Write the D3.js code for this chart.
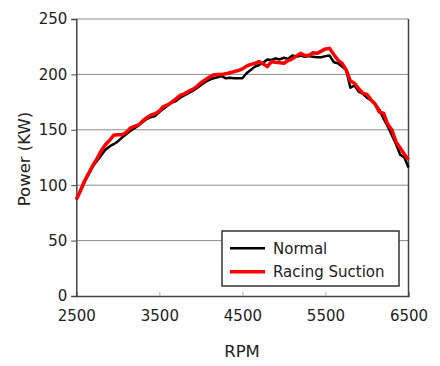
<!DOCTYPE html>
<html><head><meta charset="utf-8">
<script src="https://cdn.jsdelivr.net/npm/d3@7"></script>
<style>body{margin:0;background:#fff}svg{display:block}text{font-family:"DejaVu Sans",Verdana,sans-serif;fill:#222}</style>
</head><body><svg id="c" width="440" height="366"></svg>
<script>
const rpm = d3.range(2500, 6501, 50);
const normal = [87,95,103,110,117,122,127,132,135,137,139.5,143,146,149,151.5,154,157,160,161.5,162.5,166,169,172,174.5,176,179,181,183,185,187.5,190.5,193,195,196.5,197.5,198.5,196.5,197,196.5,196.5,196.5,201,204,207,208.5,210.5,213.5,213,214.5,213.5,215,214,217,216,217,216,216.5,216,215.5,215.5,216.5,217,211,210,207,204,188,190,184.5,182.5,179,176.5,173,168,160,153,145,137,127.5,125,116];
const racing = [87,95,104,111,118,124,131,136.5,140.5,145,145.5,145.5,147.5,151.5,153,154.5,158,161,163.5,164.5,167,171,172.5,175,178,181,182.5,184.5,186.5,189,192.5,195,197.5,199.5,200,200,200.5,201.5,202.5,203.5,205,207.5,209,210,211.5,209.5,207,211.5,211,210.5,210,212.5,214,216.5,219,217,217,219.5,219,221,223,223.5,218,213,210,204,194,192,187,183,182,177,173,166,165,155,150,139,133.5,128,123];
const xTicks = [2500,3500,4500,5500,6500];
const yTicks = [0,50,100,150,200,250];
const seriesNames = ["Normal","Racing Suction"];
const seriesColors = ["#000000","#ff0000"];

const svg = d3.select("#c");
const L=76.3, R=408.5, T=19, B=296;
const x = d3.scaleLinear().domain([2500,6500]).range([L,R]);
const y = d3.scaleLinear().domain([0,250]).range([B,T]);

// grid
svg.append("g").selectAll("line").data(yTicks.filter(d=>d>0)).join("line")
  .attr("x1",L).attr("x2",R).attr("y1",d=>y(d)).attr("y2",d=>y(d))
  .attr("stroke","#8a8a8a").attr("stroke-width",1);

// x axis
const gx = svg.append("g").attr("transform",`translate(0,${B})`)
  .call(d3.axisBottom(x).tickValues(xTicks).tickSize(-4).tickPadding(14).tickFormat(d3.format("d")));
gx.select(".domain").attr("stroke","#444").attr("stroke-width",1.5);
gx.selectAll(".tick line").attr("stroke","#aaa");
gx.selectAll("text").attr("font-size","15px").attr("fill","#222").attr("font-family","DejaVu Sans");

// y axis
const gy = svg.append("g").attr("transform",`translate(${L},0)`)
  .call(d3.axisLeft(y).tickValues(yTicks).tickSize(5).tickPadding(4));
gy.select(".domain").attr("stroke","#444").attr("stroke-width",1.5);
gy.selectAll(".tick line").attr("stroke","#444");
gy.selectAll("text").attr("font-size","15px").attr("fill","#222").attr("font-family","DejaVu Sans");

// right border
svg.append("line").attr("x1",R).attr("x2",R).attr("y1",T).attr("y2",B).attr("stroke","#444").attr("stroke-width",1.5);

// lines
const line = d3.line().x((d,i)=>x(rpm[i])).y(d=>y(d));
svg.append("path").datum(normal).attr("d",line).attr("fill","none").attr("stroke",seriesColors[0]).attr("stroke-width",2.5).attr("stroke-linejoin","round");
svg.append("path").datum(racing).attr("d",line).attr("fill","none").attr("stroke",seriesColors[1]).attr("stroke-width",3.5).attr("stroke-linejoin","round");

// axis titles
svg.append("text").attr("x",242).attr("y",357).attr("text-anchor","middle").attr("font-size","16.5px").text("RPM");
svg.append("text").attr("transform","translate(30,159) rotate(-90)").attr("text-anchor","middle").attr("font-size","16.5px").text("Power (KW)");

// legend
const lg = svg.append("g");
lg.append("rect").attr("x",222).attr("y",231).attr("width",177).attr("height",55).attr("fill","#fff").attr("stroke","#333").attr("stroke-width",1.5);
seriesNames.forEach((n,i)=>{
  const yy = 248.3 + i*23.4;
  lg.append("line").attr("x1",230).attr("x2",265).attr("y1",yy).attr("y2",yy).attr("stroke",seriesColors[i]).attr("stroke-width",i?3.5:2.5);
  lg.append("text").attr("x",273).attr("y",yy+5.5).attr("font-size","15px").text(n);
});
</script></body></html>
